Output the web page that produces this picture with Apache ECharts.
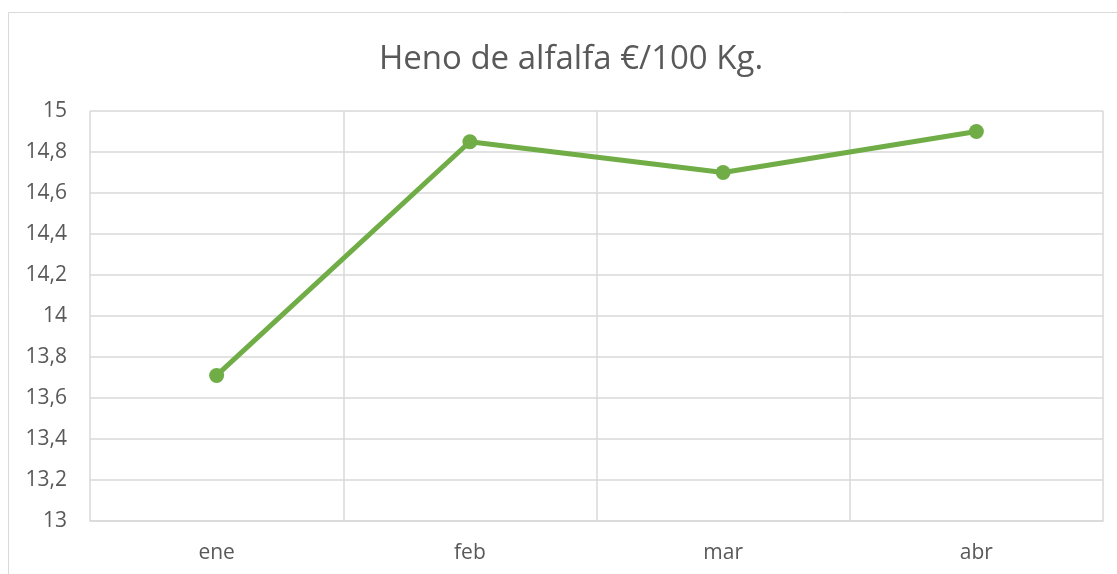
<!DOCTYPE html>
<html>
<head>
<meta charset="utf-8">
<script src="https://cdn.jsdelivr.net/npm/echarts@6/dist/echarts.min.js"></script>
<style>
  html, body { margin: 0; padding: 0; background: #fff; }
  #main { width: 1117px; height: 574px; }
</style>
</head>
<body>
<div id="main"></div>
<script>
  var titulo = "Heno de alfalfa €/100 Kg.";
  var months = ["ene", "feb", "mar", "abr"];
  var precios = [13.71, 14.85, 14.70, 14.90];
  var yMin = 13, yMax = 15, yStep = 0.2;

  var chart = echarts.init(document.getElementById("main"));
  var option = {
    animation: false,
    backgroundColor: "#ffffff",
    textStyle: { fontFamily: "Open Sans" },
    graphic: [{
      type: "rect",
      shape: { x: 8.5, y: 12.5, width: 1300, height: 800 },
      style: { fill: "none", stroke: "#d9d9d9", lineWidth: 1 },
      silent: true
    }, {
      // titulo centrado sobre el area completa del grafico (recortada a la derecha)
      type: "text",
      x: 571,
      y: 60,
      style: {
        text: titulo,
        textAlign: "center",
        textVerticalAlign: "middle",
        fontSize: 33,
        fontFamily: "Open Sans",
        fill: "#595959"
      },
      silent: true
    }],
    grid: { left: 90, right: 14, top: 111, bottom: 53, containLabel: false },
    xAxis: {
      type: "category",
      data: months,
      boundaryGap: true,
      axisLine: { lineStyle: { color: "#d9d9d9", width: 1.5 } },
      axisTick: { show: false },
      axisLabel: { color: "#595959", fontSize: 21, margin: 22 },
      splitLine: { show: true, lineStyle: { color: "#d9d9d9", width: 1.5 } }
    },
    yAxis: {
      type: "value",
      min: yMin,
      max: yMax,
      interval: yStep,
      axisLine: { show: false },
      axisTick: { show: false },
      axisLabel: {
        color: "#595959",
        fontSize: 21,
        margin: 23,
        formatter: function (v) { return String(Math.round(v * 10) / 10).replace(".", ","); }
      },
      splitLine: { lineStyle: { color: "#d9d9d9", width: 1.5 } }
    },
    series: [{
      type: "line",
      data: precios,
      symbol: "circle",
      symbolSize: 15,
      lineStyle: { color: "#70ad47", width: 5 },
      itemStyle: { color: "#70ad47" }
    }]
  };
  chart.setOption(option);
</script>
</body>
</html>
